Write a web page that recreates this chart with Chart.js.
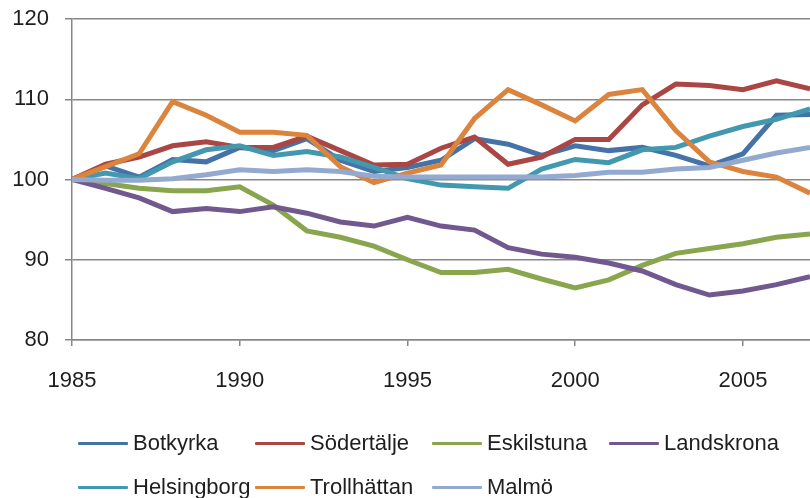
<!DOCTYPE html>
<html>
<head>
<meta charset="utf-8">
<script src="https://cdn.jsdelivr.net/npm/chart.js@4/dist/chart.umd.min.js"></script>
<style>
body { margin: 0; background: #fff; overflow: hidden; }
#wrap { position: relative; width: 810px; height: 498px; }
#legend { position: absolute; left: 0; top: 0; width: 810px; height: 498px; pointer-events: none;
  font-family: "Liberation Sans", Arial, sans-serif; font-size: 22px; color: #1e1e1e; }
.item { position: absolute; height: 30px; display: flex; align-items: center; white-space: nowrap; }
.item span.ln { display: inline-block; width: 50px; height: 3px; margin-right: 5px; border-radius: 1px; }
</style>
</head>
<body>
<div id="wrap">
<canvas id="myChart" width="810" height="498"></canvas>
<div id="legend"></div>
</div>
<script>
const years = [1985,1986,1987,1988,1989,1990,1991,1992,1993,1994,1995,1996,1997,1998,1999,2000,2001,2002,2003,2004,2005,2006,2007];
const cities = ["Botkyrka","Södertälje","Eskilstuna","Landskrona","Helsingborg","Trollhättan","Malmö"];
const botkyrka = [100,101.7,100.3,102.5,102.2,104.0,103.6,105.1,102.4,101.0,101.5,102.4,105.1,104.4,103.0,104.2,103.6,104.0,103.0,101.7,103.2,108.0,108.1];
const sodertalje = [100,101.9,102.8,104.2,104.7,104.0,104.0,105.4,103.6,101.8,101.9,103.9,105.3,101.9,102.8,105.0,105.0,109.3,111.9,111.7,111.2,112.3,111.3];
const eskilstuna = [100,99.5,98.9,98.6,98.6,99.1,96.8,93.6,92.8,91.7,90.0,88.4,88.4,88.8,87.6,86.5,87.5,89.3,90.8,91.4,92.0,92.8,93.2];
const landskrona = [100,98.9,97.7,96.0,96.4,96.0,96.6,95.8,94.7,94.2,95.3,94.2,93.7,91.5,90.7,90.3,89.6,88.6,86.9,85.6,86.1,86.9,87.9];
const helsingborg = [100,100.8,100.1,102.2,103.7,104.2,103.0,103.5,102.8,101.5,100.1,99.3,99.1,98.9,101.3,102.5,102.1,103.7,104.0,105.4,106.6,107.5,108.8];
const trollhattan = [100,101.6,103.2,109.7,108.0,105.9,105.9,105.5,101.6,99.6,100.8,101.8,107.6,111.2,109.3,107.3,110.6,111.2,106.1,102.2,101.0,100.3,98.3];
const malmo = [100,99.9,99.9,100.1,100.6,101.2,101.0,101.2,101.0,100.4,100.3,100.3,100.3,100.3,100.3,100.5,100.9,100.9,101.3,101.5,102.4,103.3,104.0];
const lineColors = ["#4572A7","#AA4643","#89A54E","#71588F","#4198AF","#DB843D","#93A9CF"];

const series = [botkyrka, sodertalje, eskilstuna, landskrona, helsingborg, trollhattan, malmo];
const gridColor = "#878787";

const chart = new Chart("myChart", {
    type: "line",
    data: {
        datasets: series.map((vals, i) => ({
            label: cities[i],
            data: vals.map((v, j) => ({x: years[j], y: v})),
            borderColor: lineColors[i],
            backgroundColor: lineColors[i],
            borderWidth: 5,
            pointRadius: 0,
            tension: 0,
            order: series.length - i
        }))
    },
    options: {
        responsive: false,
        animation: false,
        layout: {padding: {top: 19, left: 0, right: 0, bottom: 0}},
        plugins: {legend: {display: false}, tooltip: {enabled: false}},
        scales: {
            x: {
                type: "linear",
                min: 1985,
                max: 2007,
                grid: {drawOnChartArea: false, color: gridColor, tickLength: 6, lineWidth: 1.5},
                border: {color: gridColor, width: 1.5},
                ticks: {
                    stepSize: 5,
                    includeBounds: false,
                    padding: 22,
                    color: "#1e1e1e",
                    font: {family: "'Liberation Sans', Arial, sans-serif", size: 22},
                    callback: v => String(v)
                },
                afterFit: s => { s.height = 158; s.paddingLeft = 0; s.paddingRight = 0; }
            },
            y: {
                min: 80,
                max: 120,
                grid: {color: gridColor, tickLength: 7, lineWidth: 1.5},
                border: {color: gridColor, width: 1.5},
                ticks: {
                    stepSize: 10,
                    padding: 16,
                    color: "#1e1e1e",
                    font: {family: "'Liberation Sans', Arial, sans-serif", size: 22}
                },
                afterFit: s => { s.width = 72; s.paddingTop = 0; s.paddingBottom = 0; }
            }
        }
    }
});

// legend laid out as a grid, like the original
const legend = document.getElementById("legend");
chart.data.datasets.forEach((ds, i) => {
    const col = i % 4, row = Math.floor(i / 4);
    const el = document.createElement("div");
    el.className = "item";
    el.style.left = (78 + col * 177) + "px";
    el.style.top = (428 + row * 44) + "px";
    el.innerHTML = '<span class="ln" style="background:' + ds.borderColor + '"></span>' + ds.label;
    legend.appendChild(el);
});
</script>
</body>
</html>
